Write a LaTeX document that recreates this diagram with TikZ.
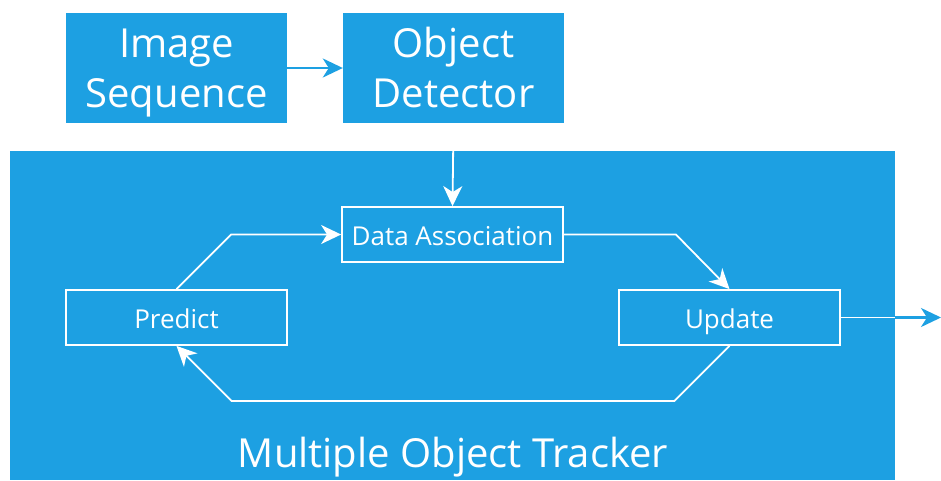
\documentclass[tikz,border=0pt]{standalone}
\usepackage{fontspec}
\setmainfont{Open Sans}
\usetikzlibrary{arrows.meta,calc}
\definecolor{mblue}{RGB}{29,160,226}
\begin{document}
\begin{tikzpicture}[x=1pt,y=-1pt,
  topbox/.style={rectangle,fill=mblue,minimum width=221pt,minimum height=110pt,inner sep=0pt},
  toptext/.style={text=white,align=center,inner sep=0pt,font=\fontsize{40}{50}\selectfont},
  stagebox/.style={rectangle,draw=white,line width=1.8pt,text=white,minimum width=221pt,
    minimum height=55pt,inner sep=0pt,text height=23pt,text depth=2pt,
    font=\fontsize{26}{30}\selectfont},
  flow/.style={draw=white,line width=1.8pt,-{Stealth[length=20pt,width=19pt,inset=6pt]}},
  bflow/.style={draw=mblue,line width=2.2pt,-{Stealth[length=20pt,width=19pt,inset=6pt]}}]
\useasboundingbox (0,0) rectangle (941,480);
\fill[white] (0,0) rectangle (941,480);
% tracker panel
\node[rectangle,fill=mblue,minimum width=885pt,minimum height=329pt,inner sep=0pt,anchor=north west] (mot) at (10,151) {};
\node[text=white,font=\fontsize{40}{48}\selectfont] (title) at (453,457) {Multiple Object Tracker};
% input stages
\node[topbox] (seq) at (176.5,68) {};
\node[toptext] (seqtext) at ($(seq)+(0,4)$) {Image\strut\\Sequence\strut};
\node[topbox] (det) at (453.5,68) {};
\node[toptext] (dettext) at ($(det)+(0,4)$) {Object\strut\\Detector\strut};
% tracking loop
\node[stagebox] (da) at (452.5,234.5) {Data Association};
\node[stagebox] (pred) at (176.5,317.5) {Predict};
\node[stagebox] (upd) at (729.5,317.5) {Update};
\coordinate (out) at (941,317.5);
% connectors
\draw[bflow] (seq.east) -- (det.west);
\draw[flow] (det.south) -- (da.north);
\draw[flow] (pred.north) -- ($(da.west)+(-110,0)$) -- (da.west);
\draw[flow] (da.east) -- ($(da.east)+(112,0)$) -- (upd.north);
\draw[flow] (upd.south) -- ($(upd.south)+(-55,55)$) -- ($(pred.south)+(55,55)$) -- (pred.south);
\draw[white,line width=1.8pt] (upd.east) -- (upd.east -| mot.east);
\draw[bflow] (upd.east -| mot.east) -- (out);
\end{tikzpicture}
\end{document}
